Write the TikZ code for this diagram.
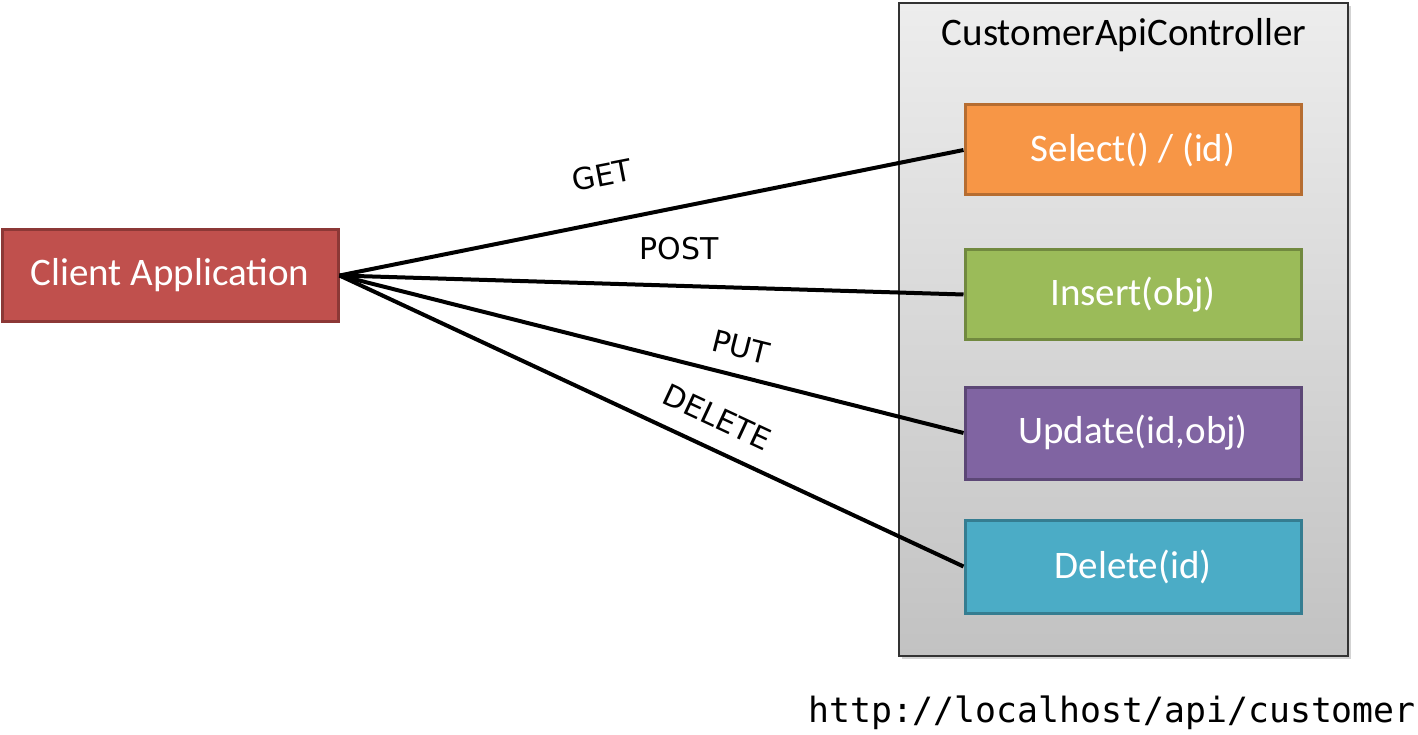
\documentclass[tikz,border=0pt]{standalone}
\usepackage{fontspec}
\setmainfont{Carlito}
\newfontfamily\lblfont{DejaVu Sans}
\newfontfamily\urlfont{DejaVu Sans Mono}
\usetikzlibrary{shadows}
\definecolor{clientfill}{HTML}{C0504D}
\definecolor{clientdraw}{HTML}{8C3836}
\definecolor{selfill}{HTML}{F79646}
\definecolor{seldraw}{HTML}{B66D31}
\definecolor{insfill}{HTML}{9BBB59}
\definecolor{insdraw}{HTML}{71893F}
\definecolor{updfill}{HTML}{8064A2}
\definecolor{upddraw}{HTML}{5C4776}
\definecolor{delfill}{HTML}{4BACC6}
\definecolor{deldraw}{HTML}{357D91}
\definecolor{ctltop}{HTML}{EDEDED}
\definecolor{ctlbot}{HTML}{C2C2C2}
\tikzset{
  opbox/.style={rectangle, line width=3pt, minimum width=336pt, minimum height=90pt,
    text=white, font=\fontsize{39}{44}\selectfont, inner sep=0pt},
  conn/.style={line width=4pt, black},
  verb/.style={font=\lblfont\fontsize{30}{34}\selectfont, inner sep=0pt}
}
\begin{document}
\begin{tikzpicture}[x=1pt,y=-1pt]
\useasboundingbox (0,0) rectangle (1418,735);
\node[rectangle, draw=black!80, line width=1.5pt, top color=ctltop, bottom color=ctlbot,
  minimum width=449pt, minimum height=653pt, inner sep=0pt,
  drop shadow={shadow xshift=3pt, shadow yshift=-3pt, opacity=0.35}] (ctl) at (1123.5,329.5) {};
\node[font=\fontsize{39}{44}\selectfont, inner sep=0pt] (ctltitle) at (1124,35) {CustomerApiController};
\node[opbox, fill=clientfill, draw=clientdraw, minimum height=91pt] (client) at (170,275.5) {Client Application};
\node[opbox, fill=selfill, draw=seldraw] (sel) at (1133,150) {Select() / (id)};
\node[opbox, fill=insfill, draw=insdraw] (ins) at (1133,294.5) {Insert(obj)};
\node[opbox, fill=updfill, draw=upddraw, minimum height=92pt] (upd) at (1133,433) {Update(id,obj)};
\node[opbox, fill=delfill, draw=deldraw, minimum height=93pt] (del) at (1133,566.5) {Delete(id)};
\draw[conn] (client.east) -- (sel.west);
\draw[conn] (client.east) -- (ins.west);
\draw[conn] (client.east) -- (upd.west);
\draw[conn] (client.east) -- (del.west);
\node[verb, rotate=11] (get) at (602,175) {GET};
\node[verb] (post) at (679,249) {POST};
\node[verb, rotate=-14] (put) at (741,347) {PUT};
\node[verb, rotate=-25] (delete) at (717,417) {DELETE};
\node[font=\urlfont\fontsize{34.8}{40}\selectfont, inner sep=0pt] (url) at (1112,713) {http://localhost/api/customer};
\end{tikzpicture}
\end{document}
